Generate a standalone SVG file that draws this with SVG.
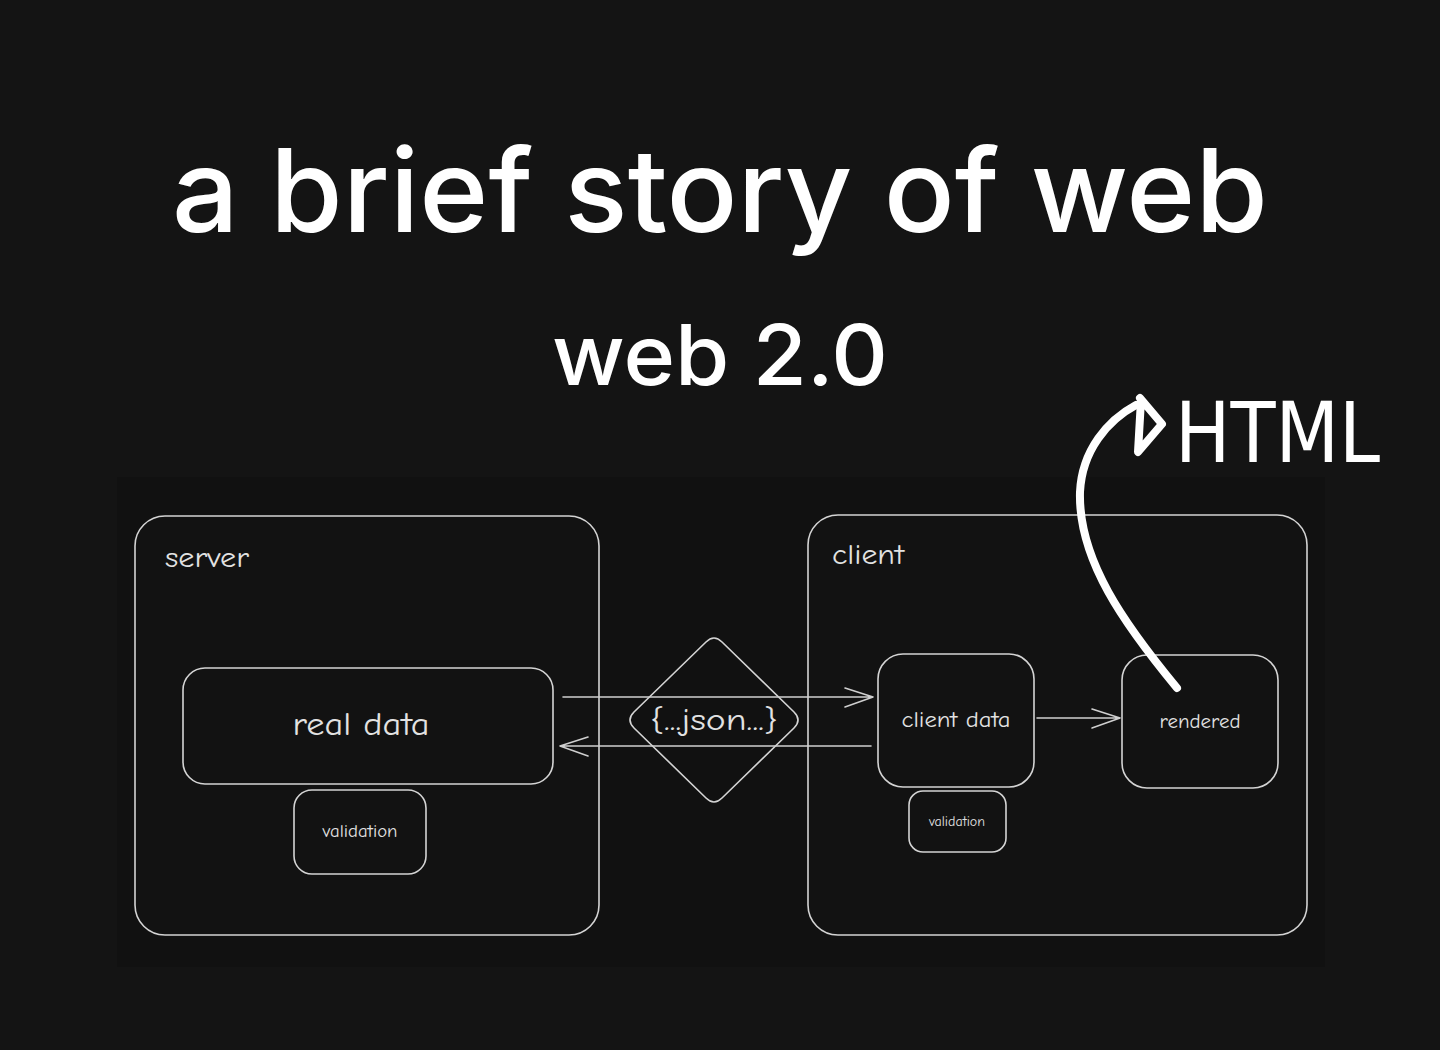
<svg xmlns="http://www.w3.org/2000/svg" width="1440" height="1050" viewBox="0 0 1440 1050">
<defs>
<style>
.box{fill:#121212;stroke:#d4d4d4;stroke-width:1.6}
.hand{font-family:"Comic Neue","DejaVu Sans","Liberation Sans",sans-serif;fill:#e2e2e2;text-anchor:middle}
.title{font-family:"Inter","Open Sans","Liberation Sans",sans-serif;fill:#ffffff;text-anchor:middle;font-weight:500}
.con{fill:none;stroke:#cfcfcf;stroke-width:1.6;stroke-linecap:round;stroke-linejoin:round}
.big{fill:none;stroke:#ffffff;stroke-width:8;stroke-linecap:round;stroke-linejoin:round}
</style>
</defs>
<rect width="1440" height="1050" fill="#141414"/>
<rect x="117" y="477" width="1208" height="490" fill="#111111"/>
<text class="title" x="720" y="232" font-size="116" textLength="1096" lengthAdjust="spacingAndGlyphs">a brief story of web</text>
<text class="title" x="720" y="385" font-size="84" textLength="336" lengthAdjust="spacingAndGlyphs">web 2.0</text>

<g id="server">
<rect class="box" x="135" y="516" width="464" height="419" rx="30"/>
<text class="hand" x="165" y="567" font-size="28" style="text-anchor:start" textLength="84" lengthAdjust="spacingAndGlyphs">server</text>
</g>
<g id="real-data">
<rect class="box" x="183" y="668" width="370" height="116" rx="22"/>
<text class="hand" x="361" y="735" font-size="32" textLength="137" lengthAdjust="spacingAndGlyphs">real data</text>
</g>
<g id="server-validation">
<rect class="box" x="294" y="790" width="132" height="84" rx="18"/>
<text class="hand" x="360" y="837" font-size="17" textLength="75" lengthAdjust="spacingAndGlyphs">validation</text>
</g>
<g id="client">
<rect class="box" x="808" y="515" width="499" height="420" rx="30"/>
<text class="hand" x="832" y="564" font-size="28" style="text-anchor:start" textLength="72" lengthAdjust="spacingAndGlyphs">client</text>
</g>
<g id="json">
<path class="box" style="fill:none" d="M706,642 Q714,634 722,642 L794,712 Q802,720 794,728 L722,798 Q714,806 706,798 L634,728 Q626,720 634,712 Z"/>
<text class="hand" x="714" y="730" font-size="30" textLength="128" lengthAdjust="spacingAndGlyphs">{...json...}</text>
</g>
<g id="client-data">
<rect class="box" x="878" y="654" width="156" height="133" rx="25"/>
<text class="hand" x="956" y="727" font-size="22" textLength="109" lengthAdjust="spacingAndGlyphs">client data</text>
</g>
<g id="client-validation">
<rect class="box" x="909" y="791" width="97" height="61" rx="14"/>
<text class="hand" x="957" y="826" font-size="13" textLength="56" lengthAdjust="spacingAndGlyphs">validation</text>
</g>
<g id="rendered">
<rect class="box" x="1122" y="655" width="156" height="133" rx="25"/>
<text class="hand" x="1200" y="728" font-size="21" textLength="81" lengthAdjust="spacingAndGlyphs">rendered</text>
</g>
<g id="html-label">
<text x="1175" y="462" font-family="DejaVu Sans Condensed, DejaVu Sans, sans-serif" font-size="84" fill="#ffffff" textLength="205" lengthAdjust="spacingAndGlyphs">HTML</text>
</g>
<g id="connectors">
<path class="con" d="M563,697 L873,697 M845,688 L873,697 L845,707"/>
<path class="con" d="M871,746 L560,746 M588,737 L560,746 L588,756"/>
<path class="con" d="M1037,718 L1120,718 M1092,709 L1120,718 L1092,728"/>
<path class="big" d="M1177,688 C1125,625 1078,560 1080,492 C1082,450 1108,420 1136,405"/>
<path class="big" d="M1140,398 L1162,424 L1138,452 L1141,400"/>
</g>
</svg>
